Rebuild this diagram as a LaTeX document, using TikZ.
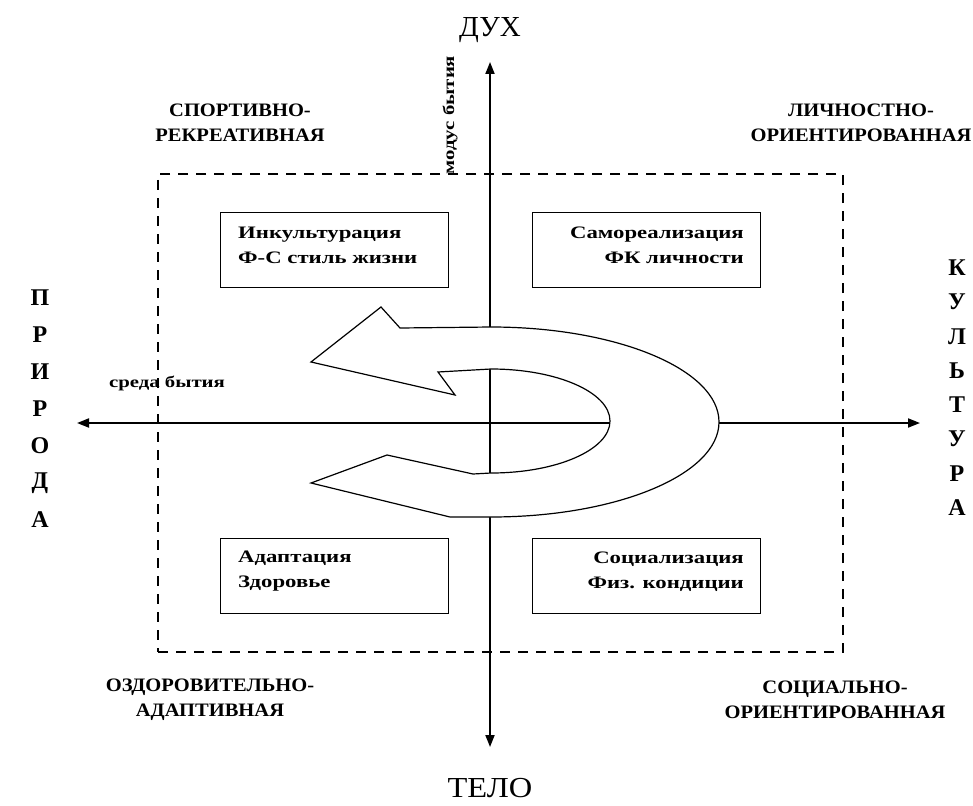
\documentclass[tikz,border=0pt]{standalone}
\usepackage{fontspec}
\setmainfont{Liberation Serif}
\newfontfamily\wideserif[FakeStretch=1.3]{Liberation Serif}
\newfontfamily\semiwide[FakeStretch=1.08]{Liberation Serif}
\newfontfamily\telofont[FakeStretch=1.12]{Liberation Serif}
\usetikzlibrary{arrows.meta}
\begin{document}
\begin{tikzpicture}[x=1pt,y=-1pt,
  axisline/.style={line width=1.8pt, {Triangle[length=12pt,width=9pt]}-{Triangle[length=12pt,width=9pt]}},
  quad/.style={draw, line width=1.8pt, minimum width=228pt, minimum height=75pt, inner sep=0pt},
  boxtext/.style={font=\wideserif\bfseries\fontsize{17.5}{25}\selectfont, inner sep=0pt},
  cat/.style={font=\semiwide\bfseries\fontsize{19}{25}\selectfont, align=center, inner sep=0pt},
  pole/.style={font=\fontsize{29}{30}\selectfont, inner sep=0pt},
  side/.style={font=\bfseries\fontsize{24}{25}\selectfont, inner sep=0pt},
  smalllab/.style={font=\wideserif\bfseries\fontsize{16}{17}\selectfont, inner sep=0pt},
  frame/.style={draw, line width=1.4pt, dash pattern=on 10pt off 8pt},
  bigarrow/.style={draw, fill=white, line width=1.2pt, line join=miter}
]
\fill[white] (0,0) rectangle (973,805);
\useasboundingbox (0,0) rectangle (973,805);

% dashed frame
\node[frame, minimum width=685pt, minimum height=478pt, inner sep=0pt] (fr) at (500.5,413) {};

% axes
\coordinate (top) at (490,62);
\coordinate (bot) at (490,747);
\coordinate (lft) at (77,423);
\coordinate (rgt) at (920,423);
\draw[axisline] (bot) -- (top);
\draw[axisline] (lft) -- (rgt);

% big curved arrow
\path[bigarrow] (311,362) -- (381,307) -- (400,328) -- (491,327)
  arc[start angle=-90, end angle=90, x radius=228, y radius=95]
  -- (450,517) -- (311,483) -- (387,455) -- (473,474) -- (491,473)
  arc[start angle=90, end angle=-90, x radius=119, y radius=52]
  -- (438,372) -- (455,395) -- cycle;

% quadrant boxes
\node[quad] (tl) at (334.5,250) {};
\node[quad] (tr) at (646.5,250) {};
\node[quad] (bl) at (334.5,576) {};
\node[quad] (br) at (646.5,576) {};

\node[boxtext, anchor=west, align=left] (tltext) at (238,245.5) {Инкультурация\\Ф-С стиль жизни};
\node[boxtext, anchor=east, align=right] (trtext) at (744,245.5) {Самореализация\\ФК личности};
\node[boxtext, anchor=west, align=left] (bltext) at (238,571.5) {Адаптация\\Здоровье};
\node[boxtext, anchor=east, align=right] (brtext) at (744,571.5) {Социализация\\Физ. кондиции};

% category labels
\node[cat] (ctl) at (240,122.5) {СПОРТИВНО-\\РЕКРЕАТИВНАЯ};
\node[cat] (ctr) at (861,122.5) {ЛИЧНОСТНО-\\ОРИЕНТИРОВАННАЯ};
\node[cat] (cbl) at (210,700) {ОЗДОРОВИТЕЛЬНО-\\АДАПТИВНАЯ};
\node[cat] (cbr) at (835,700) {СОЦИАЛЬНО-\\ОРИЕНТИРОВАННАЯ};

% poles
\node[pole] (dukh) at (490,30) {ДУХ};
\node[pole, font=\telofont\fontsize{29}{30}\selectfont] (telo) at (490,788) {ТЕЛО};

\foreach \l [count=\i from 0] in {П,Р,И,Р,О,Д,А}
  \node[side] (pr\i) at (40,298+37*\i) {\l};
\foreach \l [count=\i from 0] in {К,У,Л,Ь,Т,У,Р,А}
  \node[side] (ku\i) at (957,268+34.2*\i) {\l};

% axis labels
\node[smalllab] (sreda) at (167,383) {среда бытия};
\node[smalllab, rotate=90] (modus) at (450,115) {модус бытия};
\end{tikzpicture}
\end{document}
